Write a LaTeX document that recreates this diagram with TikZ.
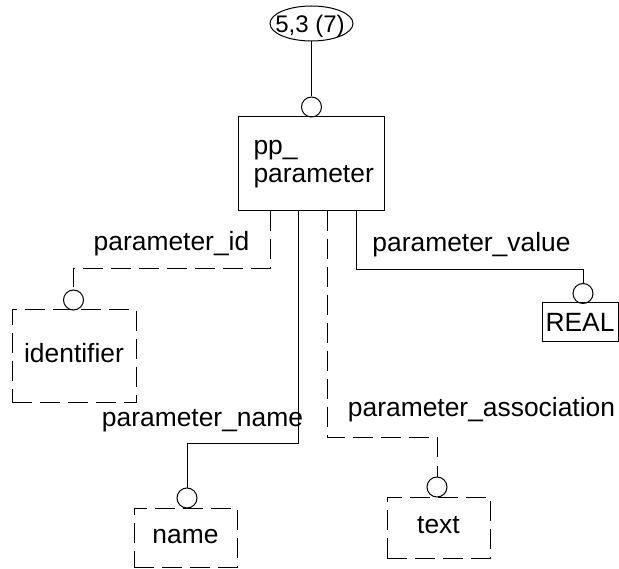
\documentclass[tikz,border=0pt]{standalone}
\usepackage{fontspec}
\setmainfont{Liberation Sans}
\begin{document}
\begin{tikzpicture}[x=1pt,y=-1pt,line width=1pt,
  txt/.style={font=\fontsize{26.4}{28}\selectfont},
  lbl/.style={txt,inner sep=0pt,anchor=base},
  dsh/.style={dash pattern=on 20pt off 8pt},
  ring/.style={draw,circle,minimum size=20pt,inner sep=0pt,solid},
  entbox/.style={draw,inner sep=0pt,txt,text depth=0pt}]
\useasboundingbox (0,0) rectangle (619,569);
\fill[white] (0,0) rectangle (619,569);
% top ellipse
\node[inner sep=0pt,minimum width=83pt,minimum height=35pt] (top) at (311.5,23.5) {};
\draw (top.center) ellipse [x radius=41.5pt, y radius=17.5pt];
\node[inner sep=0pt,anchor=base,font=\fontsize{24}{26}\selectfont] (toptext) at (310,33) {5,3 (7)};
% main entity
\node[draw,inner sep=0pt,minimum width=146pt,minimum height=94pt] (pp) at (311,164) {};
\node[lbl,anchor=base west] (pp1) at (253,155) {pp\_};
\node[lbl,anchor=base west] (pp2) at (253,183) {parameter};
% rings
\node[ring] (c0) at (311.5,107) {};
\node[ring] (c1) at (73.5,300) {};
\node[ring] (c2) at (187,498) {};
\node[ring] (c3) at (437,487) {};
\node[ring] (c4) at (583,293.5) {};
% boxes
\node[entbox,dsh,minimum width=124pt,minimum height=93pt,text height=13pt] (idb) at (74,356.5) {identifier};
\node[entbox,dsh,minimum width=103pt,minimum height=59pt,text height=11pt] (nameb) at (185.5,537.5) {name};
\node[entbox,dsh,minimum width=103pt,minimum height=61pt,text height=11pt] (textb) at (438.5,527.5) {text};
\node[entbox,minimum width=76pt,minimum height=39pt,text height=19pt] (realb) at (580,322.5) {REAL};
% labels
\node[lbl] (lid) at (171.5,251) {parameter\_id};
\node[lbl] (lval) at (471.5,252) {parameter\_value};
\node[lbl] (lname) at (202.5,427) {parameter\_name};
\node[lbl] (lassoc) at (481.5,417) {parameter\_association};
% connectors
\draw (top.south) -- (c0.north);
\draw[dsh] ([xshift=-41pt]pp.south) -- ++(0,57) -| (c1.north);
\draw ([xshift=-12.5pt]pp.south) -- ++(0,232) -| (c2.north);
\draw[dsh] ([xshift=16pt]pp.south) -- ++(0,226) -| (c3.north);
\draw ([xshift=45pt]pp.south) -- ++(0,58) -| (c4.north);
\end{tikzpicture}
\end{document}
